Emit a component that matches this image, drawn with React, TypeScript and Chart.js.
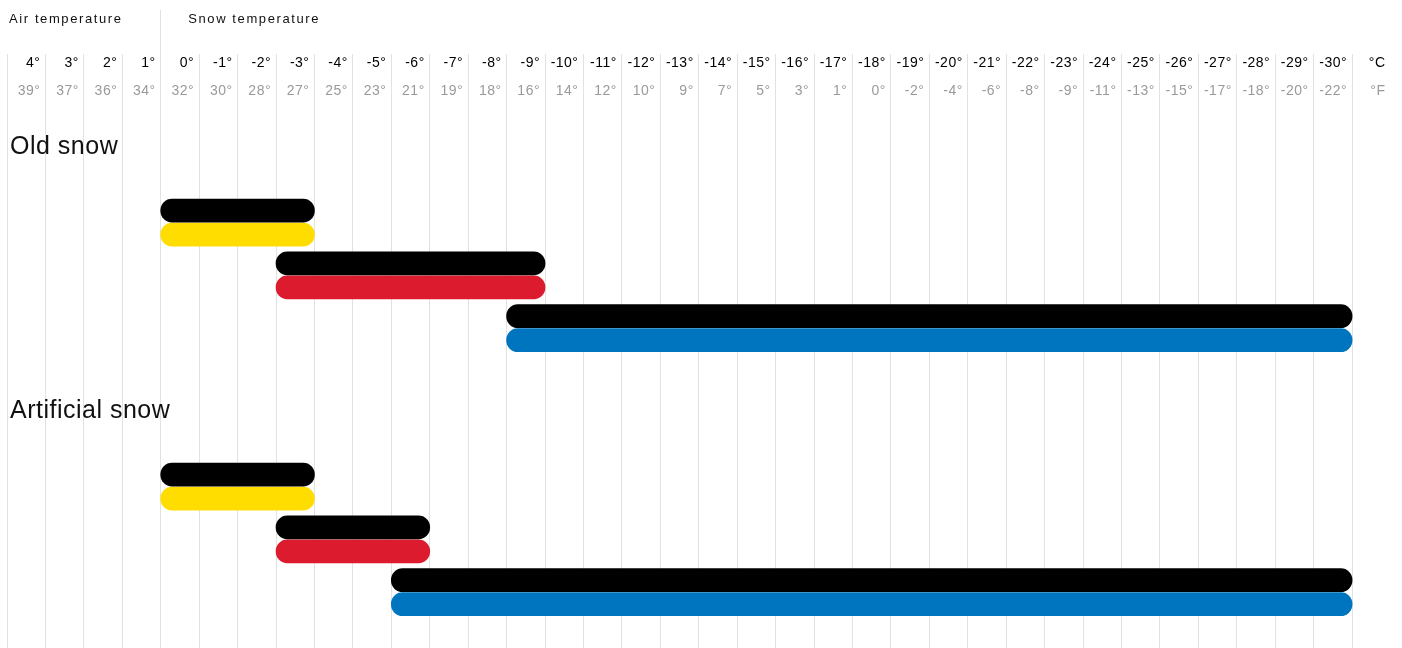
import { useEffect, useRef } from "react";
import { Chart, registerables } from "chart.js";

Chart.register(...registerables);

const FONT = '"Liberation Sans", Arial, sans-serif';

const headerAir = "Air temperature";
const headerSnow = "Snow temperature";

const celsiusLabels = [
  "4°", "3°", "2°", "1°", "0°", "-1°", "-2°", "-3°", "-4°", "-5°", "-6°", "-7°",
  "-8°", "-9°", "-10°", "-11°", "-12°", "-13°", "-14°", "-15°", "-16°", "-17°",
  "-18°", "-19°", "-20°", "-21°", "-22°", "-23°", "-24°", "-25°", "-26°", "-27°",
  "-28°", "-29°", "-30°", "°C",
];
const fahrenheitLabels = [
  "39°", "37°", "36°", "34°", "32°", "30°", "28°", "27°", "25°", "23°", "21°", "19°",
  "18°", "16°", "14°", "12°", "10°", "9°", "7°", "5°", "3°", "1°",
  "0°", "-2°", "-4°", "-6°", "-8°", "-9°", "-11°", "-13°", "-15°", "-17°",
  "-18°", "-20°", "-22°", "°F",
];

// first column (4°) starts at value 4; each column spans one degree
const firstColumn = 4;

const oldSnowTitle = "Old snow";
const artificialSnowTitle = "Artificial snow";

// temperature ranges [from, to] of each wax (column edges)
const oldSnowRanges: [number, number][] = [[0, -4], [-3, -10], [-9, -31]];
const artificialSnowRanges: [number, number][] = [[0, -4], [-3, -7], [-6, -31]];
const waxColors = ["#FFDD00", "#DC1C2E", "#0075BF"];
const topColor = "#000000";

export default function App() {
  const canvasRef = useRef<HTMLCanvasElement | null>(null);

  useEffect(() => {
    if (!canvasRef.current) return;

    const rowLabels = [
      oldSnowTitle, ...oldSnowRanges.map(() => ""), "",
      artificialSnowTitle, ...artificialSnowRanges.map(() => ""),
    ];
    const rowRanges = [
      null, ...oldSnowRanges, null,
      null, ...artificialSnowRanges,
    ];
    const rowColors = [
      "#0000", ...waxColors, "#0000",
      "#0000", ...waxColors,
    ];

    const lastEdge = firstColumn - celsiusLabels.length;

    const makeX = (labels: string[], color: string, weight: number, height: number, padding: number) => ({
      type: "linear" as const,
      position: "top" as const,
      reverse: true,
      min: lastEdge,
      max: firstColumn,
      weight,
      afterBuildTicks: (s: any) => {
        s.ticks = labels.map((_, i) => ({ value: firstColumn - i - 1 }));
      },
      afterFit: (s: any) => {
        s.height = height;
        s.paddingLeft = 0;
        s.paddingRight = 0;
        s.paddingTop = 0;
        s.paddingBottom = 0;
      },
      grid: { display: false, drawTicks: false },
      border: { display: false },
      ticks: {
        autoSkip: false,
        maxRotation: 0,
        minRotation: 0,
        align: "end" as const,
        labelOffset: -5,
        padding,
        color,
        font: { family: FONT, size: 14 },
        callback: (_v: any, i: number) => labels[i],
      },
    });

    const gridPlugin = {
      id: "columnGrid",
      beforeDraw(chart: any) {
        const ctx = chart.ctx;
        const xs = chart.scales.x;
        ctx.save();
        ctx.strokeStyle = "#e2e2e2";
        ctx.lineWidth = 1;
        celsiusLabels.forEach((_, i) => {
          const v = firstColumn - i;
          const px = Math.floor(xs.getPixelForValue(v)) + 0.5;
          ctx.beginPath();
          ctx.moveTo(px, v === 0 ? 10 : 54);
          ctx.lineTo(px, chart.height);
          ctx.stroke();
        });
        ctx.font = `13px ${FONT}`;
        (ctx as any).letterSpacing = "1.6px";
        ctx.fillStyle = "#111";
        ctx.textBaseline = "alphabetic";
        ctx.textAlign = "left";
        ctx.fillText(headerAir, xs.left + 2, 23);
        ctx.fillText(headerSnow, xs.getPixelForValue(0) + 27.5, 23);
        ctx.restore();
        (ctx as any).letterSpacing = "0.5px";
      },
    };

    const chart = new Chart(canvasRef.current, {
      type: "bar",
      data: {
        labels: rowLabels,
        datasets: [
          {
            label: "top",
            data: rowRanges as any,
            backgroundColor: topColor,
            barThickness: 24,
            maxBarThickness: 23,
            borderRadius: 20,
            borderSkipped: false,
          },
          {
            label: "wax",
            data: rowRanges as any,
            backgroundColor: rowColors,
            barThickness: 24,
            maxBarThickness: 23,
            borderRadius: 20,
            borderSkipped: false,
          },
        ],
      },
      options: {
        indexAxis: "y",
        responsive: false,
        animation: false,
        devicePixelRatio: 1,
        layout: { padding: { left: 7, right: 11.5, top: 40, bottom: 29.4 } },
        plugins: { legend: { display: false }, tooltip: { enabled: false } },
        scales: {
          x: makeX(celsiusLabels, "#000", 2, 32, 0),
          x2: makeX(fahrenheitLabels, "#9a9a9a", 1, 71.4, 43.4),
          y: {
            type: "category",
            position: "left",
            grid: { display: false, drawTicks: false },
            border: { display: false },
            afterFit: (s: any) => {
              s.width = 0;
              s.paddingTop = 0;
              s.paddingBottom = 0;
              s.paddingLeft = 0;
              s.paddingRight = 0;
            },
            ticks: {
              mirror: true,
              padding: 3,
              labelOffset: -22.5,
              autoSkip: false,
              color: "#111",
              font: { family: FONT, size: 25 },
            },
          },
        } as any,
      },
      plugins: [gridPlugin],
    });

    return () => chart.destroy();
  }, []);

  return (
    <div style={{ position: "fixed", left: 0, top: 0, width: 1402, height: 648, background: "#fff" }}>
      <canvas ref={canvasRef} width={1402} height={648} style={{ display: "block" }} />
    </div>
  );
}
